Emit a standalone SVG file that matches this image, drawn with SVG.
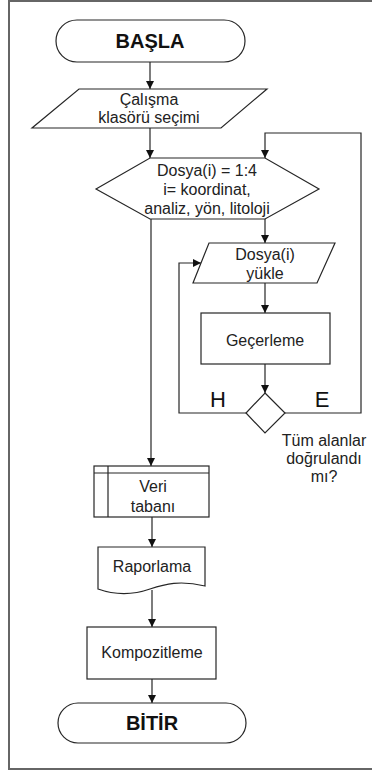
<svg xmlns="http://www.w3.org/2000/svg" width="372" height="771" viewBox="0 0 372 771">
<style>
.s{fill:#fff;stroke:#262626;stroke-width:1.2}
.c{fill:none;stroke:#262626;stroke-width:1.2}
.t{font-family:"Liberation Sans",Arial,sans-serif;font-size:16px;fill:#222;text-anchor:middle}
.b{font-family:"Liberation Sans",Arial,sans-serif;font-size:20px;font-weight:bold;fill:#111;text-anchor:middle}
.l{font-family:"Liberation Sans",Arial,sans-serif;font-size:22px;fill:#111;text-anchor:middle}
</style>
<defs>
<marker id="a" markerUnits="userSpaceOnUse" markerWidth="8" markerHeight="8" refX="8" refY="4" orient="auto">
<path d="M0,0 L8,4 L0,8 Z" fill="#111"/>
</marker>
</defs>
<rect x="9" y="1" width="372" height="768" fill="#fff" stroke="#666" stroke-width="2"/>
<g id="connectors">
<path class="c" d="M150,62 V89" marker-end="url(#a)"/>
<path class="c" d="M150,128 V158" marker-end="url(#a)"/>
<path class="c" d="M151,219 V466" marker-end="url(#a)"/>
<path class="c" d="M265,219 V243" marker-end="url(#a)"/>
<path class="c" d="M265,283 V313" marker-end="url(#a)"/>
<path class="c" d="M265,364 V393" marker-end="url(#a)"/>
<path class="c" d="M246,413 H179 V263 H201" marker-end="url(#a)"/>
<path class="c" d="M285,413 H361 V133 H265 V158" marker-end="url(#a)"/>
<path class="c" d="M152,517 V547" marker-end="url(#a)"/>
<path class="c" d="M152,590 V627" marker-end="url(#a)"/>
<path class="c" d="M152,679 V703" marker-end="url(#a)"/>
<text class="l" x="218" y="407">H</text>
<text class="l" x="322" y="407">E</text>
</g>
<g id="start">
<rect class="s" x="56" y="20" width="189" height="42" rx="21"/>
<text class="b" x="150" y="48">BAŞLA</text>
</g>
<g id="folder">
<polygon class="s" points="79,89 267,89 221,128 32,128"/>
<text class="t" x="149" y="105">Çalışma</text>
<text class="t" x="149" y="123">klasörü seçimi</text>
</g>
<g id="loop">
<polygon class="s" points="96,189 150,158 265,158 319,189 265,219 150,219"/>
<text class="t" x="207" y="176">Dosya(i) = 1:4</text>
<text class="t" x="207" y="195">i= koordinat,</text>
<text class="t" x="207" y="214">analiz, yön, litoloji</text>
</g>
<g id="load">
<polygon class="s" points="209,243 335,243 317,283 193,283"/>
<text class="t" x="265" y="260">Dosya(i)</text>
<text class="t" x="265" y="279">yükle</text>
</g>
<g id="validate">
<rect class="s" x="201" y="313" width="129" height="51"/>
<text class="t" x="265" y="346">Geçerleme</text>
</g>
<g id="check">
<polygon class="s" points="265,393 285,413 265,433 246,413"/>
<text class="t" x="324" y="446">Tüm alanlar</text>
<text class="t" x="324" y="464">doğrulandı</text>
<text class="t" x="324" y="482">mı?</text>
</g>
<g id="database">
<rect class="s" x="94" y="466" width="115" height="51"/>
<path class="c" d="M94,473 H209 M108,466 V517"/>
<text class="t" x="153" y="492">Veri</text>
<text class="t" x="153" y="512">tabanı</text>
</g>
<g id="report">
<path class="s" d="M98,547 H205 V586 C180,580 165,584 150,589 C130,596 112,594 98,589 Z"/>
<text class="t" x="152" y="572">Raporlama</text>
</g>
<g id="composite">
<rect class="s" x="87" y="627" width="129" height="52"/>
<text class="t" x="152" y="658">Kompozitleme</text>
</g>
<g id="end">
<rect class="s" x="58" y="703" width="188" height="40" rx="20"/>
<text class="b" x="152" y="730">BİTİR</text>
</g>
</svg>
